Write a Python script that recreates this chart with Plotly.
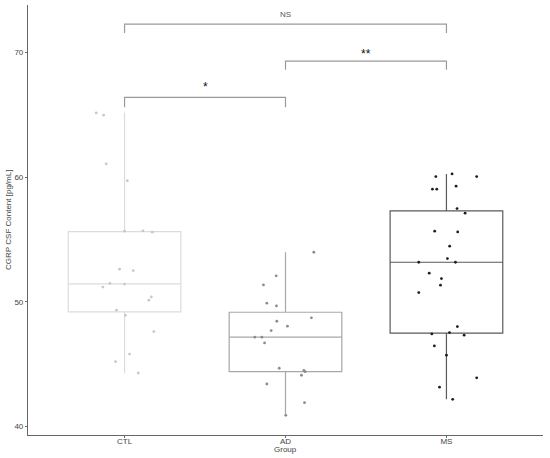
import plotly.graph_objects as go

groups = ["CTL", "AD", "MS"]
group_pos = [1, 2, 3]

# box statistics
q1 = [49.2, 44.41, 47.49]
median = [51.44, 47.17, 53.18]
q3 = [55.64, 49.17, 57.30]
lower_whisker = [44.28, 40.91, 42.19]
upper_whisker = [65.18, 53.98, 60.26]

# individual (jittered) points: horizontal jitter offset and value
ctl_jitter = [-0.176, -0.130, -0.114, 0.017, 0.0, 0.114, 0.172, -0.031, 0.054, -0.091,
              -0.135, 0.0, 0.166, 0.151, -0.050, 0.006, 0.182, 0.031, -0.056, 0.085]
ctl_values = [65.15, 64.97, 61.07, 59.72, 55.67, 55.70, 55.59, 52.62, 52.51, 51.48,
              51.19, 51.43, 50.40, 50.13, 49.34, 48.92, 47.62, 45.82, 45.21, 44.30]

ad_jitter = [0.176, -0.058, -0.137, -0.116, -0.056, 0.161, -0.054, 0.012, -0.089, -0.191,
             -0.147, -0.130, -0.039, 0.122, 0.114, 0.099, -0.116, 0.118, 0.002]
ad_values = [53.98, 52.09, 51.36, 49.90, 49.68, 48.72, 48.45, 48.05, 47.70, 47.17,
             47.17, 46.71, 44.68, 44.41, 44.50, 44.12, 43.42, 41.92, 40.91]

ms_jitter = [0.035, -0.066, 0.188, 0.060, -0.087, -0.060, 0.066, 0.116, -0.073, 0.070,
             0.020, 0.006, -0.172, 0.056, -0.107, -0.031, -0.037, -0.172, 0.068, -0.091,
             0.019, 0.110, -0.075, 0.0, 0.188, -0.043, 0.039]
ms_values = [60.26, 60.05, 60.05, 59.28, 59.04, 59.04, 57.48, 57.11, 55.67, 55.61,
             54.47, 53.47, 53.18, 53.18, 52.30, 51.87, 51.34, 50.75, 48.02, 47.43,
             47.54, 47.33, 46.47, 45.73, 43.91, 43.16, 42.19]

# significance brackets
bracket_from = [1, 2, 1]
bracket_to = [2, 3, 3]
bracket_top = [66.4, 69.3, 72.27]
bracket_tip = [65.6, 68.6, 71.55]
bracket_label_y = [67.5, 70.2, 73.0]
bracket_labels = ["*", "**", "NS"]

box_colors = ["#dcdcdc", "#a8a8a8", "#5a5a5a"]
point_colors = ["#c8c8c8", "#8c8c8c", "#1e1e1e"]

FONT = "Liberation Sans, Arial, sans-serif"

fig = go.Figure()

jitters = [ctl_jitter, ad_jitter, ms_jitter]
values = [ctl_values, ad_values, ms_values]

for i, g in enumerate(groups):
    fig.add_trace(go.Box(
        x=[group_pos[i]], q1=[q1[i]], median=[median[i]], q3=[q3[i]],
        lowerfence=[lower_whisker[i]], upperfence=[upper_whisker[i]],
        width=0.7, whiskerwidth=0, boxpoints=False,
        fillcolor="rgba(255,255,255,0)",
        line=dict(color=box_colors[i], width=1.2),
        name=g, showlegend=False, hoverinfo="skip",
    ))

for i, g in enumerate(groups):
    fig.add_trace(go.Scatter(
        x=[group_pos[i] + j for j in jitters[i]], y=values[i],
        mode="markers",
        marker=dict(size=2.8, color=point_colors[i]),
        showlegend=False, name=g,
    ))

for k in range(len(bracket_labels)):
    x0, x1 = bracket_from[k], bracket_to[k]
    fig.add_trace(go.Scatter(
        x=[x0, x0, x1, x1],
        y=[bracket_tip[k], bracket_top[k], bracket_top[k], bracket_tip[k]],
        mode="lines", line=dict(color="#9a9a9a", width=1.2),
        showlegend=False, hoverinfo="skip",
    ))
    is_star = bracket_labels[k] != "NS"
    fig.add_annotation(
        x=(x0 + x1) / 2, y=bracket_label_y[k] - (0.3 if is_star else 0),
        text=bracket_labels[k], showarrow=False,
        font=dict(size=12 if is_star else 8, color="#111" if is_star else "#555", family=FONT),
        xanchor="center", yanchor="middle",
    )

fig.add_annotation(
    xref="paper", yref="paper", x=-0.039, y=0.5,
    text="CGRP CSF Content [pg/mL]", textangle=-90, showarrow=False,
    font=dict(size=8, color="#444", family=FONT), xanchor="center", yanchor="middle",
)
fig.add_annotation(
    xref="paper", yref="paper", x=0.5, y=-0.033,
    text="Group", showarrow=False,
    font=dict(size=8, color="#444", family=FONT), xanchor="center", yanchor="middle",
)

fig.update_layout(
    width=550, height=458,
    margin=dict(l=28, r=7, t=5, b=23),
    paper_bgcolor="white", plot_bgcolor="white",
    font=dict(family=FONT, size=8, color="#444"),
    xaxis=dict(
        range=[0.4, 3.6], tickvals=group_pos, ticktext=groups,
        showgrid=False, zeroline=False, showline=True, linecolor="#666", linewidth=1.2,
        ticks="outside", ticklen=2, tickcolor="#666", tickfont=dict(size=8, color="#444"),
        ticklabelstandoff=-4, automargin=False,
    ),
    yaxis=dict(
        range=[39.33, 73.8], tickvals=[40, 50, 60, 70],
        showgrid=False, zeroline=False, showline=True, linecolor="#666", linewidth=1.2,
        ticks="outside", ticklen=2, tickcolor="#666", tickfont=dict(size=8, color="#444"),
        automargin=False,
    ),
)

fig.write_html("out.html", config={"displayModeBar": False},
               post_script="document.body.style.margin='0px';")
